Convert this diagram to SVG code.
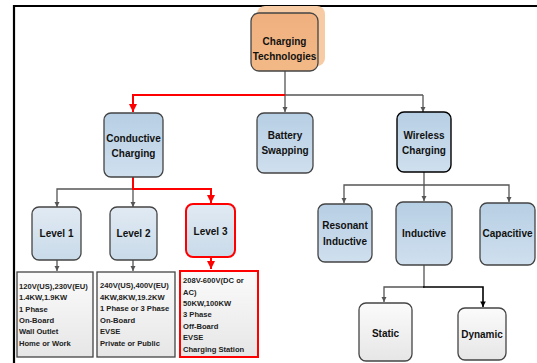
<svg xmlns="http://www.w3.org/2000/svg" width="537" height="363" viewBox="0 0 537 363">
<defs>
<linearGradient id="gBlue" x1="0" y1="0" x2="0" y2="1"><stop offset="0" stop-color="#b7cfe4"/><stop offset="1" stop-color="#cfdfee"/></linearGradient>
<linearGradient id="gLight" x1="0" y1="0" x2="0" y2="1"><stop offset="0" stop-color="#e1eaf3"/><stop offset="1" stop-color="#c9dae9"/></linearGradient>
<linearGradient id="gGrey" x1="0" y1="0" x2="0" y2="1"><stop offset="0" stop-color="#fbfbfb"/><stop offset="1" stop-color="#e6e6e6"/></linearGradient>
<linearGradient id="gOrange" x1="0" y1="0" x2="0" y2="1"><stop offset="0" stop-color="#efb07e"/><stop offset="1" stop-color="#f2b987"/></linearGradient>
<marker id="aG" viewBox="0 0 10 10" refX="10" refY="5" markerWidth="4" markerHeight="4" orient="auto"><path d="M0,0L10,5L0,10z" fill="#555"/></marker>
<marker id="aR" viewBox="0 0 10 10" refX="10" refY="5" markerWidth="4" markerHeight="4" orient="auto"><path d="M0,0L10,5L0,10z" fill="#f00"/></marker>
<marker id="aK" viewBox="0 0 10 10" refX="10" refY="5" markerWidth="3.5" markerHeight="3.5" orient="auto"><path d="M0,0L10,5L0,10z" fill="#000"/></marker>
</defs>
<style>
.t{font-family:"Liberation Sans",Arial,sans-serif;font-weight:bold;font-size:10px;fill:#111;text-anchor:middle}
.s{font-family:"Liberation Sans",Arial,sans-serif;font-weight:bold;font-size:7.6px;fill:#222}
.b{stroke:#444;stroke-width:1.3}
.g{fill:none;stroke:#555;stroke-width:1.3}
.r{fill:none;stroke:#f00;stroke-width:2}
.k{fill:none;stroke:#000;stroke-width:1.6}
</style>
<g id="frame" fill="none" stroke="#000" stroke-width="2.2">
<path d="M14,363V6H537"/>
</g>
<g id="connectors">
<path class="g" d="M285,71V95H423" />
<path class="g" d="M285,95V112" marker-end="url(#aG)"/>
<path class="g" d="M423,95V112" marker-end="url(#aG)"/>
<path class="r" d="M285,95H133V112" marker-end="url(#aR)"/>
<path class="g" d="M133,189H57V207" marker-end="url(#aG)"/>
<path class="g" d="M133,189V207" marker-end="url(#aG)"/>
<path class="r" d="M133,177V189H211V203" marker-end="url(#aR)"/>
<path class="g" d="M57,260V271" marker-end="url(#aG)"/>
<path class="g" d="M133,260V271" marker-end="url(#aG)"/>
<path class="r" d="M211,257V269" marker-end="url(#aR)"/>
<path class="g" d="M424,172V185H344V203" marker-end="url(#aG)"/>
<path class="g" d="M424,185V201" marker-end="url(#aG)"/>
<path class="g" d="M424,185H509V202" marker-end="url(#aG)"/>
<path class="g" d="M424,265V287H384V302" marker-end="url(#aG)"/>
<path class="k" d="M423,287H483V307" marker-end="url(#aK)"/>
</g>
<g id="charging-technologies">
<rect x="257" y="6" width="68" height="60" rx="8" fill="#f7cba4"/>
<rect x="251" y="13" width="67" height="58" rx="8" fill="url(#gOrange)" class="b"/>
<text class="t" x="284.5" y="45">Charging</text>
<text class="t" x="284.5" y="60">Technologies</text>
</g>
<g id="conductive-charging">
<rect x="104" y="113" width="59" height="64" rx="7" fill="url(#gBlue)" class="b"/>
<text class="t" x="133.5" y="142">Conductive</text>
<text class="t" x="133.5" y="157">Charging</text>
</g>
<g id="battery-swapping">
<rect x="257" y="113" width="56" height="60" rx="7" fill="url(#gBlue)" class="b"/>
<text class="t" x="285" y="139">Battery</text>
<text class="t" x="285" y="154">Swapping</text>
</g>
<g id="wireless-charging">
<rect x="397" y="112" width="54" height="60" rx="7" fill="url(#gBlue)" stroke="#000" stroke-width="1.4"/>
<text class="t" x="424" y="139">Wireless</text>
<text class="t" x="424" y="154">Charging</text>
</g>
<g id="level-1">
<rect x="32" y="207" width="49" height="53" rx="7" fill="url(#gLight)" class="b"/>
<text class="t" x="56.5" y="237">Level 1</text>
</g>
<g id="level-2">
<rect x="110" y="207" width="47" height="53" rx="7" fill="url(#gLight)" class="b"/>
<text class="t" x="133.5" y="237">Level 2</text>
</g>
<g id="level-3">
<rect x="186" y="204" width="49" height="53" rx="7" fill="url(#gLight)" stroke="#f00" stroke-width="2"/>
<text class="t" x="210.5" y="235">Level 3</text>
</g>
<g id="level-1-specs">
<rect x="17" y="272" width="76" height="85" fill="url(#gGrey)" class="b"/>
<text class="s" x="19" y="289">120V(US),230V(EU)</text>
<text class="s" x="19" y="300">1.4KW,1.9KW</text>
<text class="s" x="19" y="311.5">1 Phase</text>
<text class="s" x="19" y="323">On-Board</text>
<text class="s" x="19" y="334">Wall Outlet</text>
<text class="s" x="19" y="345.5">Home or Work</text>
</g>
<g id="level-2-specs">
<rect x="97" y="272" width="78" height="85" fill="url(#gGrey)" class="b"/>
<text class="s" x="100" y="288">240V(US),400V(EU)</text>
<text class="s" x="100" y="299.5">4KW,8KW,19.2KW</text>
<text class="s" x="100" y="311">1 Phase or 3 Phase</text>
<text class="s" x="100" y="323">On-Board</text>
<text class="s" x="100" y="334">EVSE</text>
<text class="s" x="100" y="345.5">Private or Public</text>
</g>
<g id="level-3-specs">
<rect x="180" y="271" width="78" height="86" fill="url(#gGrey)" stroke="#f00" stroke-width="2"/>
<text class="s" x="183" y="283">208V-600V(DC or</text>
<text class="s" x="183" y="294.5">AC)</text>
<text class="s" x="183" y="306">50KW,100KW</text>
<text class="s" x="183" y="317">3 Phase</text>
<text class="s" x="183" y="328.5">Off-Board</text>
<text class="s" x="183" y="340">EVSE</text>
<text class="s" x="183" y="351.5">Charging Station</text>
</g>
<g id="resonant-inductive">
<rect x="318" y="204" width="54" height="58" rx="7" fill="url(#gBlue)" class="b"/>
<text class="t" x="345" y="229">Resonant</text>
<text class="t" x="345" y="245">Inductive</text>
</g>
<g id="inductive">
<rect x="396" y="202" width="56" height="63" rx="7" fill="url(#gBlue)" class="b"/>
<text class="t" x="424" y="237">Inductive</text>
</g>
<g id="capacitive">
<rect x="480" y="203" width="55" height="62" rx="7" fill="url(#gBlue)" class="b"/>
<text class="t" x="507.5" y="237">Capacitive</text>
</g>
<g id="static">
<rect x="359" y="303" width="53" height="58" rx="7" fill="url(#gGrey)" class="b"/>
<text class="t" x="385.5" y="337">Static</text>
</g>
<g id="dynamic">
<rect x="458" y="308" width="48" height="52" rx="7" fill="url(#gGrey)" class="b"/>
<text class="t" x="482" y="338">Dynamic</text>
</g>
</svg>
